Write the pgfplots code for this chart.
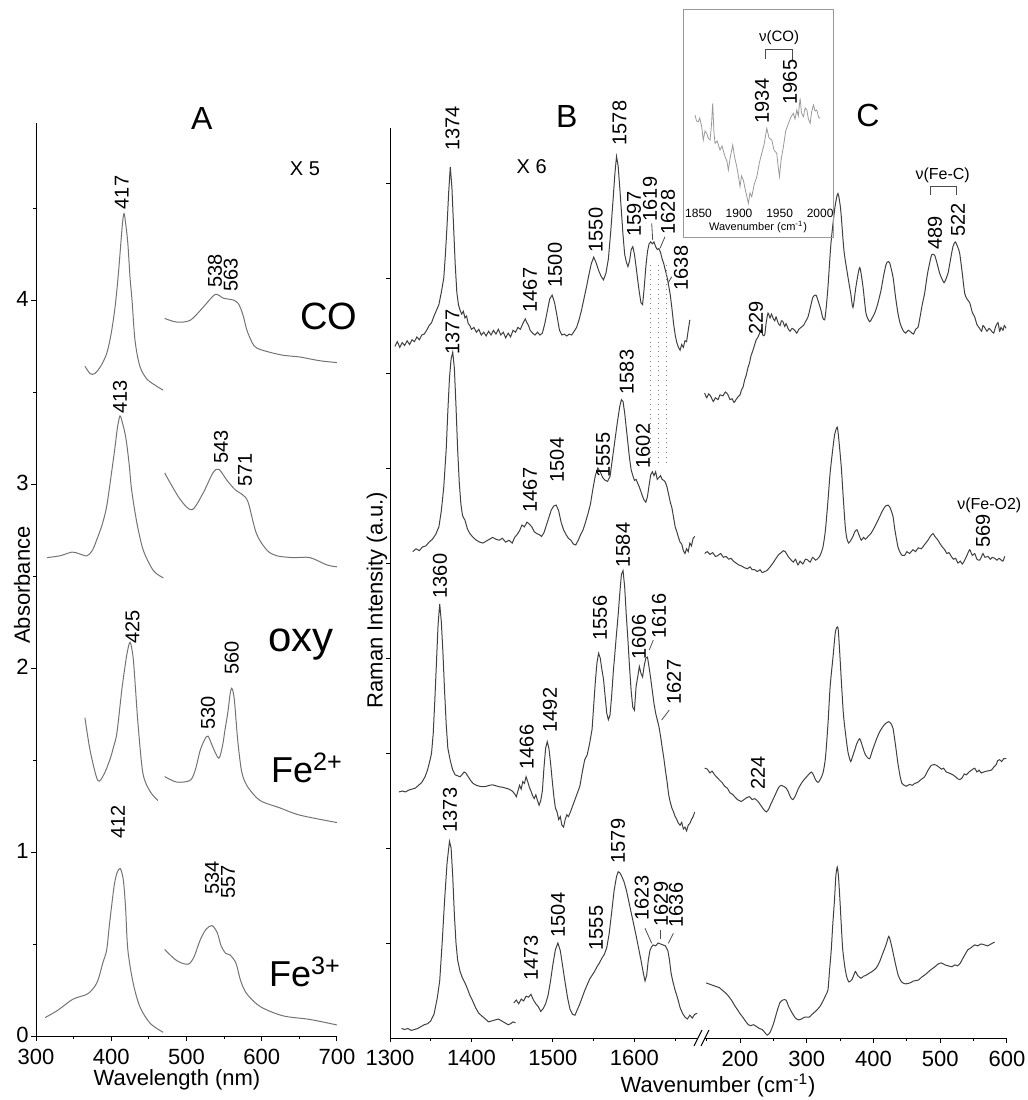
\documentclass[border=0pt]{standalone}
\usepackage{fontspec}
\setmainfont{Liberation Sans}
\usepackage{pgfplots}
\pgfplotsset{compat=1.18}
\definecolor{uvc}{gray}{0.45}
\definecolor{rc}{gray}{0.25}
\definecolor{insc}{gray}{0.6}
\pgfplotsset{
  base/.style={scale only axis, anchor=south west, clip=false,
    axis line style={-, line width=0.5pt},
    tick style={black, line width=0.5pt}, tick align=outside,
    major tick length=2.5pt, minor tick length=1.5pt,
    tick label style={font=\fontsize{11}{11}\selectfont, inner sep=1pt},
    xticklabel style={yshift=-3pt},
    /pgf/number format/assume math mode=true,
    /pgf/number format/1000 sep={}},
}
\newcommand{\pl}{\fontsize{10}{10}\selectfont}
\begin{document}
\begin{tikzpicture}
% ---------------- Panel A ----------------
\begin{axis}[base, at={(18pt,-518pt)}, width=150.5pt, height=456.5pt,
  xmin=300, xmax=700, ymin=0, ymax=4.962,
  axis x line*=bottom, axis y line*=left,
  xtick={300,400,500,600,700}, minor xtick={350,450,550,650},
  ytick={0,1,2,3,4}, minor ytick={0.5,1.5,2.5,3.5,4.5},
  yticklabel style={yshift=0.5pt}]
\addplot[uvc, line width=0.5pt, smooth] coordinates {(365,3.64) (372,3.60) (378,3.60) (386,3.64) (394,3.71) (400,3.82) (405,3.96) (409,4.12) (412,4.27) (415,4.42) (417,4.47) (419,4.42) (422,4.31) (425,4.12) (427.6,4.0) (431.6,3.78) (438,3.64) (447.5,3.57) (461,3.53) (469,3.51)};
\addplot[uvc, line width=0.5pt, smooth] coordinates {(471,3.90) (487,3.88) (505,3.89) (522,3.96) (538,4.03) (549,4.01) (562,4.0) (569,3.98) (575,3.92) (580,3.84) (587,3.77) (593,3.74) (607,3.72) (628,3.70) (651,3.69) (677,3.67) (700,3.66)};
\addplot[uvc, line width=0.5pt, smooth] coordinates {(314.6,2.60) (332,2.61) (348,2.63) (358,2.62) (367.8,2.61) (375,2.64) (381,2.70) (388,2.78) (394,2.88) (400,3.05) (405,3.20) (408,3.30) (411.6,3.37) (415,3.33) (418,3.28) (420.5,3.22) (424,3.10) (427,2.97) (434,2.79) (442.6,2.64) (455.9,2.53) (469.2,2.49)};
\addplot[uvc, line width=0.5pt, smooth] coordinates {(471,3.06) (491,2.92) (507,2.86) (522,2.95) (535,3.06) (543,3.08) (553.8,3.02) (564.5,2.97) (575,2.94) (582,2.90) (593,2.73) (607,2.64) (620,2.61) (641.5,2.60) (664,2.60) (686.7,2.56) (700,2.55)};
\addplot[uvc, line width=0.5pt, smooth] coordinates {(365,1.73) (372,1.55) (382,1.39) (390,1.42) (398,1.50) (403,1.57) (407.6,1.65) (414,1.88) (418,2.00) (421,2.08) (425,2.14) (429,2.06) (432,1.90) (435.5,1.70) (442,1.43) (451.5,1.33) (462,1.28)};
\addplot[uvc, line width=0.5pt, smooth] coordinates {(471,1.41) (487,1.38) (505,1.39) (512,1.45) (518,1.55) (524,1.61) (528.6,1.63) (535,1.57) (543,1.51) (548,1.58) (551,1.66) (555,1.76) (558,1.86) (560,1.89) (562,1.87) (564,1.81) (568,1.61) (572,1.47) (575,1.41) (582,1.35) (597.7,1.28) (624,1.24) (651,1.20) (700,1.16)};
\addplot[uvc, line width=0.5pt, smooth] coordinates {(312,0.10) (329,0.14) (349,0.20) (369,0.23) (381,0.29) (389,0.40) (394,0.47) (398,0.62) (404,0.82) (408,0.89) (412,0.91) (416,0.85) (419,0.70) (422,0.47) (429,0.29) (438,0.16) (451.5,0.07) (469,0.02)};
\addplot[uvc, line width=0.5pt, smooth] coordinates {(471,0.47) (487,0.41) (502,0.39) (510,0.43) (518,0.52) (526,0.58) (534,0.60) (541,0.56) (546,0.49) (552,0.45) (558,0.44) (564,0.41) (567,0.38) (572,0.30) (580,0.23) (598,0.16) (628,0.11) (664,0.09) (700,0.06)};
\end{axis}
% ---------------- Panel B ----------------
\begin{axis}[base, at={(195pt,-519pt)}, width=154pt, height=455pt,
  xmin=1300, xmax=1678, ymin=0, ymax=9.579,
  axis x line*=bottom, axis y line*=left,
  xtick={1300,1400,1500,1600}, minor xtick={1350,1450,1550,1650},
  ytick={1,2,3,4,5,6,7,8,9}, yticklabels={}, major tick length=2pt]
\addplot[rc, line width=0.5pt] coordinates {(1306,7.28) (1309,7.33) (1312,7.27) (1315,7.32) (1318,7.29) (1321,7.34) (1324,7.30) (1327,7.35) (1330,7.33) (1333,7.38) (1336,7.35) (1339,7.40) (1342,7.41) (1345,7.45) (1348,7.50) (1351,7.53) (1354,7.60) (1357,7.66) (1360,7.72) (1363,7.85) (1366,8.00) (1368,8.25) (1370,8.55) (1372,8.90) (1374,9.17) (1376,8.95) (1378,8.55) (1380,8.15) (1382,7.85) (1384,7.72) (1386,7.66) (1388,7.62) (1390,7.65) (1392,7.58) (1394,7.60) (1396,7.52) (1398,7.50) (1400,7.46) (1403,7.48) (1406,7.43) (1409,7.46) (1412,7.40) (1415,7.43) (1418,7.39) (1421,7.44) (1424,7.40) (1427,7.45) (1430,7.41) (1433,7.46) (1436,7.40) (1439,7.43) (1442,7.37) (1445,7.42) (1448,7.38) (1451,7.45) (1454,7.43) (1457,7.48) (1460,7.46) (1463,7.52) (1466,7.57) (1468,7.53) (1470,7.50) (1472,7.45) (1475,7.42) (1478,7.40) (1481,7.43) (1484,7.40) (1487,7.42) (1490,7.52) (1493,7.65) (1496,7.78) (1499,7.82) (1502,7.74) (1505,7.60) (1508,7.45) (1511,7.40) (1514,7.41) (1517,7.39) (1520,7.41) (1523,7.40) (1526,7.44) (1529,7.48) (1532,7.56) (1535,7.66) (1538,7.78) (1541,7.90) (1544,8.03) (1547,8.15) (1550,8.22) (1553,8.16) (1556,8.08) (1559,8.02) (1562,7.98) (1565,8.05) (1568,8.20) (1571,8.50) (1574,8.85) (1576,9.10) (1578,9.28) (1580,9.18) (1582,8.95) (1584,8.70) (1586,8.45) (1588,8.25) (1590,8.17) (1592,8.12) (1594,8.18) (1596,8.30) (1598,8.33) (1600,8.25) (1602,8.12) (1604,7.98) (1606,7.85) (1608,7.74) (1610,7.72) (1612,7.90) (1614,8.12) (1616,8.28) (1618,8.36) (1620,8.38) (1622,8.36) (1624,8.38) (1626,8.33) (1628,8.30) (1630,8.31) (1632,8.27) (1634,8.20) (1636,8.15) (1638,8.08) (1640,8.01) (1642,7.92) (1644,7.82) (1646,7.68) (1648,7.52) (1650,7.40) (1652,7.32) (1654,7.27) (1656,7.24) (1658,7.30) (1660,7.27) (1662,7.34) (1664,7.33) (1666,7.45) (1668,7.56)};
\addplot[rc, line width=0.5pt] coordinates {(1328,5.12) (1332,5.15) (1336,5.13) (1340,5.17) (1344,5.18) (1348,5.22) (1352,5.25) (1356,5.30) (1360,5.38) (1363,5.55) (1366,5.80) (1369,6.20) (1371,6.60) (1373,6.95) (1375,7.15) (1377,7.22) (1379,7.05) (1381,6.65) (1383,6.20) (1385,5.85) (1387,5.62) (1389,5.50) (1392,5.45) (1395,5.36) (1398,5.31) (1402,5.27) (1406,5.24) (1410,5.22) (1414,5.21) (1418,5.23) (1422,5.25) (1426,5.27) (1430,5.25) (1434,5.24) (1438,5.26) (1442,5.22) (1446,5.24) (1450,5.21) (1453,5.27) (1456,5.30) (1459,5.34) (1462,5.40) (1465,5.38) (1468,5.43) (1471,5.41) (1474,5.38) (1477,5.33) (1480,5.31) (1483,5.30) (1486,5.28) (1489,5.32) (1492,5.40) (1495,5.48) (1498,5.56) (1501,5.60) (1504,5.61) (1507,5.55) (1510,5.43) (1513,5.35) (1516,5.30) (1519,5.26) (1522,5.24) (1525,5.20) (1528,5.19) (1531,5.24) (1534,5.30) (1537,5.35) (1540,5.43) (1543,5.52) (1546,5.62) (1549,5.78) (1552,5.92) (1555,6.00) (1558,5.96) (1561,5.90) (1564,5.87) (1567,5.86) (1570,5.91) (1573,6.10) (1576,6.29) (1579,6.48) (1582,6.65) (1584,6.72) (1586,6.70) (1588,6.58) (1590,6.42) (1592,6.26) (1594,6.10) (1596,5.98) (1598,5.92) (1600,5.87) (1602,5.88) (1604,5.84) (1606,5.80) (1608,5.75) (1610,5.70) (1612,5.66) (1614,5.64) (1616,5.70) (1618,5.82) (1620,5.93) (1622,5.96) (1624,5.92) (1626,5.96) (1628,5.88) (1630,5.90) (1632,5.92) (1634,5.88) (1636,5.87) (1638,5.85) (1640,5.80) (1642,5.72) (1644,5.64) (1646,5.58) (1648,5.48) (1650,5.38) (1652,5.33) (1654,5.27) (1656,5.22) (1658,5.20) (1660,5.13) (1662,5.10) (1664,5.15) (1666,5.12) (1668,5.21) (1670,5.18) (1672,5.26) (1674,5.28)};
\addplot[rc, line width=0.5pt] coordinates {(1311,2.59) (1315,2.60) (1319,2.59) (1323,2.61) (1327,2.62) (1331,2.63) (1335,2.66) (1339,2.69) (1343,2.75) (1346,2.82) (1349,2.92) (1351,3.00) (1353,3.20) (1355,3.55) (1357,3.95) (1359,4.35) (1361,4.57) (1363,4.38) (1365,4.05) (1367,3.65) (1369,3.30) (1371,3.05) (1374,2.92) (1377,2.82) (1380,2.77) (1383,2.76) (1386,2.75) (1389,2.78) (1391,2.80) (1393,2.79) (1396,2.75) (1399,2.71) (1402,2.68) (1406,2.66) (1410,2.65) (1414,2.645) (1418,2.65) (1422,2.66) (1426,2.665) (1430,2.655) (1434,2.645) (1438,2.64) (1442,2.63) (1446,2.62) (1450,2.60) (1453,2.57) (1455,2.54) (1457,2.60) (1459,2.66) (1461,2.62) (1463,2.70) (1465,2.68) (1467,2.75) (1469,2.70) (1471,2.64) (1473,2.60) (1475,2.55) (1477,2.52) (1479,2.56) (1481,2.50) (1483,2.45) (1485,2.50) (1487,2.60) (1489,2.85) (1491,3.05) (1493,3.12) (1495,3.05) (1497,2.90) (1499,2.72) (1501,2.55) (1503,2.42) (1505,2.38) (1507,2.30) (1509,2.33) (1511,2.24) (1513,2.22) (1515,2.30) (1517,2.35) (1519,2.33) (1521,2.37) (1524,2.44) (1527,2.51) (1530,2.58) (1533,2.65) (1536,2.80) (1539,2.93) (1542,2.98) (1545,3.10) (1548,3.25) (1550,3.50) (1552,3.75) (1554,3.95) (1556,4.05) (1558,4.00) (1560,3.88) (1562,3.78) (1564,3.60) (1566,3.42) (1568,3.35) (1570,3.40) (1572,3.60) (1574,3.85) (1576,4.05) (1578,4.26) (1580,4.45) (1582,4.68) (1584,4.88) (1586,4.92) (1588,4.75) (1590,4.45) (1592,4.19) (1594,3.90) (1596,3.65) (1598,3.48) (1600,3.45) (1602,3.70) (1604,3.80) (1606,3.91) (1608,3.84) (1610,3.80) (1612,3.92) (1614,4.00) (1616,4.01) (1618,3.90) (1620,3.78) (1622,3.65) (1624,3.52) (1626,3.42) (1628,3.35) (1630,3.28) (1632,3.18) (1634,3.06) (1636,2.95) (1638,2.82) (1640,2.70) (1642,2.56) (1644,2.48) (1646,2.42) (1648,2.38) (1650,2.33) (1652,2.30) (1654,2.26) (1656,2.24) (1658,2.27) (1660,2.20) (1662,2.22) (1664,2.18) (1666,2.24) (1668,2.26) (1670,2.30) (1672,2.33) (1674,2.38)};
\addplot[rc, line width=0.5pt] coordinates {(1314,0.10) (1318,0.09) (1322,0.10) (1326,0.08) (1330,0.09) (1334,0.10) (1338,0.12) (1342,0.14) (1346,0.15) (1350,0.18) (1354,0.25) (1358,0.42) (1361,0.60) (1364,1.00) (1367,1.45) (1370,1.84) (1373,2.07) (1375,2.00) (1377,1.70) (1379,1.30) (1381,1.00) (1383,0.82) (1386,0.70) (1389,0.63) (1392,0.58) (1395,0.52) (1398,0.45) (1401,0.40) (1405,0.32) (1409,0.26) (1413,0.23) (1417,0.20) (1421,0.17) (1425,0.18) (1429,0.19) (1433,0.20) (1437,0.18) (1441,0.16) (1445,0.14) (1448,0.15) (1451,0.17) (1454,0.16)};
\addplot[rc, line width=0.5pt] coordinates {(1452,0.37) (1455,0.40) (1458,0.36) (1461,0.41) (1464,0.39) (1467,0.44) (1470,0.43) (1473,0.46) (1476,0.40) (1479,0.36) (1482,0.33) (1485,0.28) (1488,0.31) (1491,0.36) (1494,0.45) (1497,0.60) (1500,0.78) (1503,0.93) (1506,1.00) (1509,0.92) (1512,0.75) (1515,0.58) (1518,0.42) (1521,0.30) (1524,0.25) (1527,0.24) (1530,0.30) (1533,0.36) (1536,0.43) (1539,0.50) (1542,0.56) (1545,0.62) (1548,0.66) (1551,0.70) (1554,0.75) (1557,0.79) (1560,0.84) (1563,0.88) (1566,0.95) (1569,1.10) (1572,1.32) (1575,1.55) (1578,1.70) (1580,1.75) (1582,1.74) (1584,1.71) (1587,1.65) (1590,1.56) (1593,1.44) (1596,1.32) (1599,1.20) (1602,1.08) (1605,0.95) (1608,0.82) (1611,0.68) (1613,0.60) (1615,0.66) (1617,0.82) (1619,0.92) (1621,0.96) (1623,0.98) (1626,0.97) (1629,1.00) (1632,0.99) (1635,0.98) (1638,0.97) (1641,0.92) (1643,0.82) (1645,0.68) (1647,0.60) (1650,0.50) (1653,0.42) (1656,0.32) (1659,0.26) (1662,0.22) (1665,0.20) (1668,0.24) (1671,0.21) (1674,0.25) (1677,0.26)};
\addplot[gray, dotted, line width=0.4pt] coordinates {(1619.6,8.14) (1619.6,6.05)};
\addplot[gray, dotted, line width=0.4pt] coordinates {(1629.2,8.14) (1629.2,6.05)};
\addplot[gray, dotted, line width=0.4pt] coordinates {(1639.5,8.14) (1639.5,6.05)};
\end{axis}
% ---------------- Panel C ----------------
\begin{axis}[base, at={(352pt,-519pt)}, width=151.5pt, height=455pt,
  xmin=146, xmax=600, ymin=0, ymax=9.579,
  axis x line*=bottom, hide y axis,
  xtick={200,300,400,500,600}, minor xtick={150,250,350,450,550}]
\addplot[rc, line width=0.5pt, smooth, tension=0.4] coordinates {(147,6.79) (150,6.74) (153,6.78) (156.5,6.75) (160,6.70) (163,6.74) (167,6.72) (170,6.77) (174.5,6.76) (178,6.80) (182,6.77) (185,6.72) (188,6.73) (191,6.69) (194,6.72) (197,6.75) (200,6.77) (202,6.82) (204.4,6.85) (207,6.93) (209,6.97) (212,7.06) (214,7.10) (216.4,7.18) (219.4,7.24) (222,7.30) (224.3,7.35) (227,7.38) (229.4,7.42) (232,7.46) (234,7.40) (236.9,7.40) (239,7.52) (241.9,7.63) (245,7.58) (247,7.62) (249.4,7.58) (252,7.55) (254,7.59) (256.9,7.53) (260,7.50) (262,7.55) (264.3,7.54) (267,7.49) (269,7.52) (271.8,7.47) (275,7.44) (278,7.47) (281.9,7.45) (285,7.42) (288,7.46) (291.3,7.48) (295,7.50) (298,7.54) (301.8,7.59) (305,7.68) (309.3,7.80) (313.8,7.82) (317,7.76) (321.3,7.66) (324,7.58) (326.8,7.56) (329,7.68) (331.8,7.91) (336.3,8.37) (342.3,8.75) (346.7,8.89) (350.8,8.72) (355.7,8.29) (361.7,8.01) (365.8,7.84) (369.2,7.69) (373.7,7.91) (379.3,8.11) (384.2,7.91) (388.7,7.63) (394.2,7.54) (398,7.58) (401.7,7.63) (406,7.72) (411.2,7.87) (415,8.02) (418.7,8.14) (421,8.17) (424.2,8.16) (429.2,8.01) (433,7.80) (436.6,7.63) (440,7.52) (444.1,7.45) (448,7.42) (452,7.45) (456.1,7.43) (460,7.41) (463,7.46) (466.6,7.48) (470,7.60) (473,7.72) (476.6,7.84) (481,8.05) (486.1,8.22) (488,8.25) (491.6,8.24) (495,8.16) (499.1,8.05) (502,8.00) (505.6,7.95) (508,7.98) (511.6,8.05) (515,8.18) (519,8.33) (522.5,8.38) (526,8.33) (529.1,8.26) (533,8.05) (536.6,7.84) (540,7.78) (544.1,7.74) (548,7.64) (551.6,7.59) (555,7.51) (559,7.47) (562,7.44) (564,7.50) (566.5,7.48) (570,7.44) (573,7.47) (576,7.45) (580,7.42) (583,7.49) (586.5,7.53) (589,7.44) (591,7.48) (594,7.45) (596,7.50) (598.5,7.47)};
\addplot[rc, line width=0.5pt, smooth, tension=0.4] coordinates {(147,5.10) (151,5.12) (155,5.09) (159,5.11) (163,5.07) (167,5.08) (171,5.10) (175,5.06) (179,5.07) (183,5.04) (186.4,5.05) (190,5.02) (194,5.00) (198,4.98) (202,4.97) (206.9,4.95) (211,4.94) (215,4.96) (218,4.93) (221.9,4.93) (226,4.91) (230,4.93) (233,4.90) (236.9,4.91) (240,4.92) (244,4.95) (249.4,5.00) (254,5.05) (258,5.09) (261.8,5.11) (265,5.13) (267.8,5.12) (272,5.07) (276.8,5.03) (280,5.01) (283,5.04) (286.8,4.98) (290,5.02) (294,4.99) (298,5.04) (301.8,5.03) (305,5.01) (309,5.06) (313,5.03) (316.8,5.05) (320,5.08) (324.3,5.17) (328,5.35) (331.8,5.66) (335,5.95) (339.3,6.22) (342,6.36) (345.7,6.43) (348,6.30) (351.7,6.01) (355,5.65) (357.7,5.38) (360,5.26) (362.8,5.21) (366,5.24) (369.2,5.28) (372,5.33) (375.2,5.35) (378,5.30) (381.7,5.24) (385,5.27) (388,5.25) (391.7,5.28) (396,5.31) (401.7,5.38) (406,5.44) (410,5.50) (414.2,5.56) (418,5.60) (421.7,5.61) (425,5.58) (429.2,5.49) (432,5.35) (436.6,5.17) (440,5.11) (443,5.08) (446.7,5.08) (450,5.12) (454,5.10) (459.1,5.14) (463,5.12) (467,5.16) (471.6,5.15) (476,5.19) (481.6,5.24) (485,5.28) (489.1,5.31) (492,5.28) (496.6,5.24) (500,5.20) (503,5.17) (506.6,5.14) (510,5.10) (513,5.11) (516.5,5.07) (520,5.04) (523,5.05) (526.5,5.00) (530,5.02) (533,4.99) (536.6,5.03) (540,5.08) (544.1,5.14) (548,5.08) (551.6,5.10) (555,5.04) (559,5.03) (562,5.07) (564,5.10) (567,5.06) (571.5,5.07) (575,5.04) (578,5.06) (581.5,5.05) (585,5.03) (588,5.05) (591.4,5.03) (594,5.02) (596.5,5.07)};
\addplot[rc, line width=0.5pt, smooth, tension=0.4] coordinates {(147,2.84) (151,2.83) (155,2.79) (158,2.81) (162,2.77) (166,2.74) (170,2.71) (173,2.69) (177,2.65) (181,2.63) (185,2.58) (188,2.57) (192,2.54) (196,2.51) (199,2.50) (201.9,2.49) (206,2.51) (210,2.53) (214.5,2.54) (218,2.51) (222,2.52) (226.9,2.49) (231,2.45) (235,2.41) (239.3,2.38) (243,2.41) (246,2.46) (249.4,2.51) (254,2.58) (258,2.64) (261.8,2.66) (265,2.65) (269.3,2.63) (273,2.58) (276,2.53) (279.3,2.51) (283,2.55) (287,2.62) (291.8,2.68) (296,2.72) (301,2.76) (306.7,2.80) (310,2.77) (313,2.72) (316.8,2.69) (320,2.72) (324.3,2.79) (328,2.95) (331.8,3.31) (335,3.70) (339.3,4.01) (343,4.28) (346.7,4.32) (349,4.10) (351.7,3.77) (355,3.40) (359.2,3.14) (362,3.00) (365.8,2.91) (368,2.95) (371.8,3.03) (375,3.10) (379.3,3.15) (383,3.08) (386.7,3.00) (390,2.96) (394.2,2.94) (398,3.02) (404.1,3.14) (409,3.22) (414.2,3.28) (418,3.31) (422.7,3.33) (426,3.31) (429.2,3.26) (433,3.08) (436.6,2.89) (440,2.75) (442.6,2.68) (446,2.66) (449.1,2.65) (454,2.67) (458,2.66) (461.7,2.68) (466,2.69) (471,2.72) (476.6,2.75) (481,2.81) (486.5,2.87) (491,2.88) (496.6,2.86) (502,2.83) (505,2.84) (509,2.80) (513,2.79) (519,2.77) (523,2.75) (526,2.73) (529.1,2.72) (533,2.74) (536,2.78) (539,2.77) (543,2.80) (547,2.82) (551.6,2.84) (555,2.80) (558,2.82) (561.4,2.79) (565,2.80) (570,2.81) (576.4,2.82) (580,2.85) (584,2.88) (586,2.92) (589,2.93) (592,2.91) (595,2.94) (598.9,2.94)};
\addplot[rc, line width=0.5pt, smooth, tension=0.4] coordinates {(149.3,0.58) (153,0.57) (157,0.56) (161,0.55) (165,0.54) (169,0.53) (174,0.50) (179,0.47) (183.9,0.43) (188,0.39) (192,0.34) (196,0.30) (199.6,0.26) (204,0.22) (208,0.18) (212.4,0.14) (216,0.13) (220,0.14) (224.9,0.12) (229,0.10) (233,0.09) (237,0.06) (240.7,0.03) (245,0.06) (250.1,0.15) (255,0.27) (259.6,0.37) (264,0.40) (268.8,0.40) (273,0.33) (278.4,0.26) (283,0.21) (287.9,0.19) (292,0.20) (297,0.22) (303.6,0.22) (308,0.25) (313,0.28) (319.5,0.33) (325,0.40) (329,0.46) (331.8,0.51) (334,0.70) (336.7,0.93) (339,1.20) (341.5,1.45) (343.5,1.70) (345.7,1.80) (347.5,1.70) (349.7,1.45) (352,1.15) (353.9,0.93) (357,0.75) (360,0.64) (363.2,0.59) (368,0.62) (372.8,0.70) (376,0.66) (381.2,0.63) (385,0.65) (388.7,0.66) (393,0.68) (398,0.70) (404.3,0.74) (409,0.80) (412.7,0.87) (418.7,0.98) (422.7,1.07) (425,1.03) (427.7,0.95) (432.6,0.79) (437,0.66) (442,0.59) (448,0.57) (454.6,0.58) (460,0.60) (467.2,0.61) (472,0.64) (478,0.67) (486.1,0.72) (492,0.75) (497,0.78) (501.8,0.79) (507,0.77) (512,0.76) (517.5,0.75) (522,0.77) (526,0.76) (530.1,0.79) (534,0.84) (538,0.89) (541.5,0.93) (546,0.95) (551.6,0.98) (556,0.97) (561,0.99) (566.5,0.98) (571,0.97) (576,0.99) (581.5,1.01)};
\end{axis}
% ---------------- Inset ----------------
\begin{axis}[scale only axis, anchor=south west, clip=false, at={(345.2pt,-103.5pt)}, width=66.9pt, height=60pt,
  xmin=1840, xmax=2005, ymin=3, ymax=15,
  axis x line*=bottom, hide y axis, x axis line style={draw=none},
  xtick={1850,1900,1950,2000}, major tick length=0pt,
  tick label style={font=\fontsize{6}{6}\selectfont, inner sep=1pt},
  /pgf/number format/assume math mode=true, /pgf/number format/1000 sep={}]
\addplot[insc, line width=0.4pt] coordinates {(1845.7,12.2) (1847.5,11.6) (1849.8,11.53) (1851.5,11.9) (1853.9,11.03) (1855.9,9.70) (1858,10.6) (1860.1,10.37) (1862,9.9) (1864.2,9.70) (1866,11.2) (1867.5,13.37) (1869,10.5) (1870.4,9.37) (1873,9.6) (1876.5,8.70) (1879,9.1) (1882.7,8.03) (1885,7.6) (1886.8,6.70) (1889,7.9) (1892.2,9.20) (1894.5,8.0) (1897.2,7.03) (1899,6.2) (1901.2,5.03) (1903,6.1) (1905.3,5.70) (1908,4.6) (1911.5,3.37) (1913.5,4.4) (1915.7,4.03) (1918.5,5.2) (1921.9,6.03) (1925,7.4) (1928.0,8.37) (1931,9.3) (1934.2,10.87) (1937,9.9) (1940.4,9.70) (1943,8.7) (1946.5,8.37) (1948,7.2) (1949.8,6.03) (1952,7.8) (1954.7,9.03) (1957.5,10.6) (1960.9,11.37) (1964,12.0) (1967.0,12.37) (1969,11.8) (1971.2,12.70) (1973,12.1) (1975.3,13.87) (1977,12.4) (1979.4,12.03) (1981.5,12.9) (1983.6,12.70) (1985.5,11.8) (1987.7,11.37) (1989.5,12.5) (1991.7,13.20) (1993.8,12.6) (1995.9,12.70) (1998,12.0) (2000.0,11.87)};
\end{axis}
% ---------------- annotations (pixel coordinates) ----------------
\begin{scope}[x=0.5pt, y=-0.5pt]
\useasboundingbox (0,0) rectangle (1027,1100);
\draw[insc, line width=0.5pt] (683,9) rectangle (833,237);
\node[font=\fontsize{5.5}{5.5}\selectfont] at (758,227) {Wavenumber (cm\textsuperscript{-1})};
\node[font=\fontsize{7.5}{7.5}\selectfont] at (779,38) {ν(CO)};
\draw[black!70, line width=0.4pt] (765.7,59) -- (765.7,49.3) -- (792.3,49.3) -- (792.3,60);
\node[rotate=90, font=\pl] at (762,101) {1934};
\node[rotate=90, font=\pl] at (790,82) {1965};
% axis labels
\node[font=\fontsize{11}{11}\selectfont] at (177,1080) {Wavelength (nm)};
\node[font=\fontsize{11}{11}\selectfont] at (718,1085) {Wavenumber (cm\textsuperscript{-1})};
\node[rotate=90, font=\fontsize{11}{11}\selectfont] at (22,585) {Absorbance};
\node[rotate=90, font=\fontsize{11}{11}\selectfont] at (377,600) {Raman Intensity (a.u.)};
% break marks
\draw[line width=0.5pt] (694,1046) -- (702,1030);
\draw[line width=0.5pt] (701,1046) -- (709,1030);
% panel letters
\node[font=\fontsize{16}{16}\selectfont] at (201.7,118.3) {A};
\node[font=\fontsize{16}{16}\selectfont] at (566.7,116.7) {B};
\node[font=\fontsize{16}{16}\selectfont] at (868,115) {C};
\node[font=\fontsize{10}{10}\selectfont] at (305,168.3) {X 5};
\node[font=\fontsize{10}{10}\selectfont] at (531.7,166.7) {X 6};
\node[font=\fontsize{19}{19}\selectfont] at (329,316.7) {CO};
\node[font=\fontsize{21}{21}\selectfont] at (300.7,645) {oxy};
\node[font=\fontsize{18}{18}\selectfont] at (307,768) {Fe\textsuperscript{2+}};
\node[font=\fontsize{18}{18}\selectfont] at (305,972) {Fe\textsuperscript{3+}};
% A peak labels
\foreach \t/\xx/\yy in {417/121.7/192.5, 538/215/271, 563/230.8/275, 413/120/396.7, 543/221/447, 571/245/470, 425/132.5/627, 530/208/713, 560/231.7/658, 412/118/822, 534/212/878, 557/228/882}
  \node[rotate=90, font=\pl] at (\xx,\yy) {\t};
% B peak labels
\foreach \t/\xx/\yy in {1374/452.5/128.3, 1578/619.5/123, 1550/595.8/230, 1500/555/265, 1467/530/290, 1597/634/214, 1619/650/199, 1628/668/212, 1638/681/268,
  1377/452.5/332, 1467/530/490, 1504/557/460, 1555/603/455, 1583/626.7/372, 1602/643/446,
  1360/440/576, 1556/600/618, 1584/623/545, 1606/639/637, 1616/659/616, 1627/674/682, 1492/550/710, 1466/526.7/747,
  1373/450/810, 1579/618/841, 1504/558/915, 1555/596/928, 1623/641.7/898, 1629/661/904, 1636/676/905, 1473/531/958}
  \node[rotate=90, font=\pl] at (\xx,\yy) {\t};
% leader lines
\draw[black!70, line width=0.4pt] (651.7,223.3) -- (652.7,240);
\draw[black!70, line width=0.4pt] (665,236.7) -- (660,248.3);
\draw[black!70, line width=0.4pt] (671.7,276.7) -- (668.3,282.7);
\draw[black!70, line width=0.4pt] (653.3,640) -- (649.3,650);
\draw[black!70, line width=0.4pt] (669.3,710) -- (661.7,720);
\draw[black!70, line width=0.4pt] (645,928.3) -- (651.7,943.3);
\draw[black!70, line width=0.4pt] (660,930) -- (660,939.3);
\draw[black!70, line width=0.4pt] (673.3,933.3) -- (668.3,943.3);
% C labels
\node[font=\fontsize{8}{8}\selectfont] at (942.7,175) {ν(Fe-C)};
\draw[black!70, line width=0.4pt] (930,195) -- (930,186) -- (956,186) -- (956,195);
\node[font=\fontsize{8}{8}\selectfont] at (989.3,505) {ν(Fe-O2)};
\foreach \t/\xx/\yy in {229/756/318, 489/935/233, 522/958/220, 569/983/531, 224/758/773}
  \node[rotate=90, font=\pl] at (\xx,\yy) {\t};
\end{scope}
\end{tikzpicture}
\end{document}
